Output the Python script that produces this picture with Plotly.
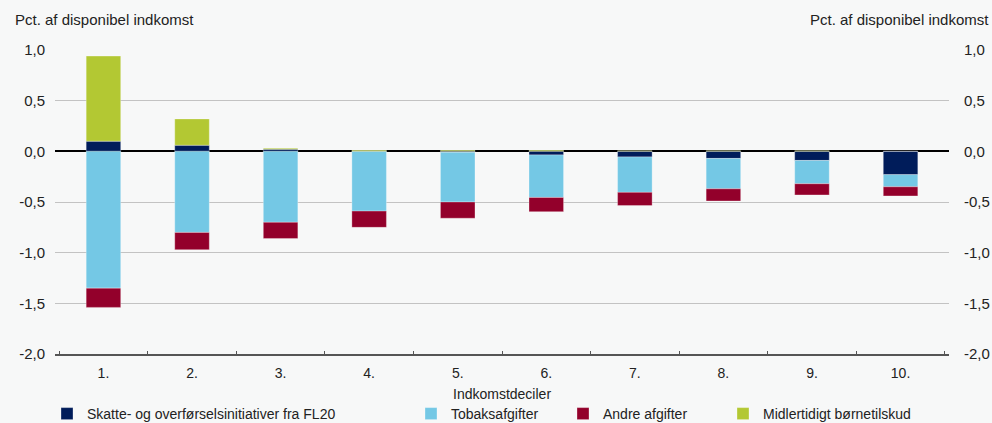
import plotly.graph_objects as go

categories = ["1.", "2.", "3.", "4.", "5.", "6.", "7.", "8.", "9.", "10."]
skatte = [0.10, 0.06, 0.02, 0.00, -0.01, -0.035, -0.055, -0.07, -0.09, -0.23]
tobak = [-1.35, -0.80, -0.70, -0.59, -0.49, -0.42, -0.35, -0.30, -0.23, -0.12]
andre = [-0.19, -0.17, -0.16, -0.16, -0.16, -0.14, -0.13, -0.12, -0.11, -0.09]
boernetilskud = [0.84, 0.26, 0.01, 0.01, 0.01, 0.01, 0.005, 0.005, 0.005, 0.0]

y_tickvals = [1.0, 0.5, 0.0, -0.5, -1.0, -1.5, -2.0]
y_ticktext = ["1,0", "0,5", "0,0", "-0,5", "-1,0", "-1,5", "-2,0"]

names = ["Skatte- og overførselsinitiativer fra FL20", "Tobaksafgifter",
         "Andre afgifter", "Midlertidigt børnetilskud"]
colors = ["#001c5a", "#74c8e5", "#93002b", "#b3c833"]
legend_ids = ["legend", "legend2", "legend3", "legend4"]
legend_x = [47, 411, 563, 723]  # px from left of page

font = "Liberation Sans, Arial, sans-serif"
W, H = 992, 423
fig = go.Figure()
for vals, nm, col, lg in zip([skatte, tobak, andre, boernetilskud], names, colors, legend_ids):
    fig.add_trace(go.Bar(x=categories, y=vals, name=nm, marker_color=col,
                         marker_line=dict(width=0.6, color="rgba(255,255,255,0.5)"),
                         width=0.39, legend=lg))
# invisible trace for right axis
fig.add_trace(go.Scatter(x=categories, y=skatte, yaxis="y2", mode="markers",
                         marker=dict(opacity=0), showlegend=False, hoverinfo="skip"))

bg = "#f7f8f8"
legend_common = dict(orientation="h", yref="container", y=(H - 414) / H, yanchor="middle",
                     xref="container", xanchor="left", bgcolor="rgba(0,0,0,0)",
                     font=dict(size=14), itemwidth=30)
layout_legends = {lg: dict(legend_common, x=lx / W) for lg, lx in zip(legend_ids, legend_x)}

yax_common = dict(range=[-2, 1], tickmode="array", tickvals=y_tickvals, ticktext=y_ticktext,
                  ticks="")
fig.update_layout(
    barmode="relative",
    width=W, height=H,
    paper_bgcolor=bg, plot_bgcolor=bg,
    margin=dict(l=55, r=43, t=50, b=69, autoexpand=False),
    font=dict(family=font, size=15, color="#222222"),
    xaxis=dict(showline=True, linecolor="#555555", linewidth=1.5,
               ticks="inside", tickson="boundaries", ticklen=3, tickcolor="#555555",
               showgrid=False, zeroline=False, tickfont=dict(size=14),
               ticklabelstandoff=5),
    yaxis=dict(yax_common, showgrid=True, gridcolor="#c3c3c3", gridwidth=1.2,
               zeroline=True, zerolinecolor="#000000", zerolinewidth=1.5,
               ticklabelstandoff=9),
    yaxis2=dict(yax_common, overlaying="y", side="right",
                showgrid=False, zeroline=False, ticklabelstandoff=14),
    showlegend=True,
    annotations=[
        dict(text="Pct. af disponibel indkomst", xref="paper", yref="paper",
             x=-42/894, y=1, xanchor="left", yanchor="bottom", yshift=20,
             showarrow=False),
        dict(text="Pct. af disponibel indkomst", xref="paper", yref="paper",
             x=1 + 42/894, y=1, xanchor="right", yanchor="bottom", yshift=20,
             showarrow=False),
        dict(text="Indkomstdeciler", xref="paper", yref="paper",
             x=0.5, y=0, xanchor="center", yanchor="middle", yshift=-40,
             showarrow=False, font=dict(size=14)),
    ],
    **layout_legends,
)
fig.write_html("out.html", config={"displayModeBar": False},
               post_script="document.body.style.margin='0';document.body.style.overflow='hidden';")
